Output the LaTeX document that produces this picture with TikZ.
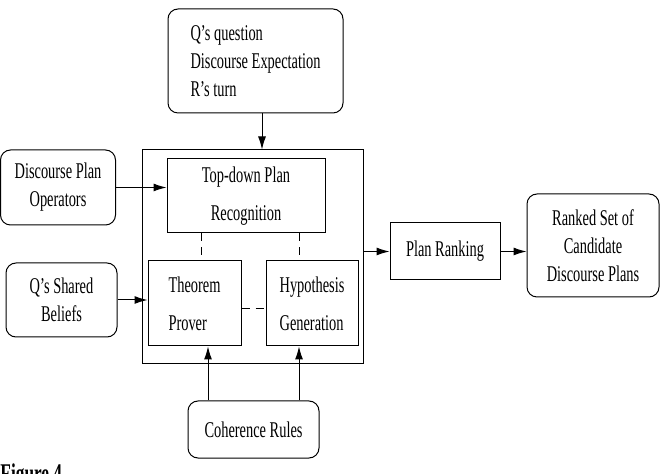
\documentclass[tikz,border=0pt]{standalone}
\usepackage{fontspec}
\setmainfont[FakeStretch=0.64]{Liberation Serif}
\usetikzlibrary{arrows.meta}
\tikzset{
  box/.style={draw,line width=.5pt,inner sep=0pt,align=center,
    font=\fontsize{11.25}{14}\selectfont},
  rbox/.style={box,rounded corners=5pt},
  inbox/.style={box,font=\fontsize{11.25}{19}\selectfont},
  link/.style={line width=.45pt,dash pattern=on 4pt off 3pt},
  >={Latex[length=6.5pt,width=4pt]}
}
\begin{document}
\begin{tikzpicture}[x=.5pt,y=-.5pt,line width=.5pt]
\useasboundingbox (0,0) rectangle (662,474);
\node[rbox,align=left,minimum width=87.5pt,minimum height=52pt] (top) at (255.5,61) {Q's question\\Discourse Expectation\\R's turn};
\node[box,minimum width=110.5pt,minimum height=107pt] (outer) at (252.5,257) {};
\node[inbox,minimum width=79pt,minimum height=37pt] (tdp) at (246,196) {Top-down Plan\\Recognition};
\node[inbox,align=left,minimum width=46.5pt,minimum height=42.5pt] (thm) at (194.5,303.5) {Theorem\\Prover};
\node[inbox,align=left,minimum width=46pt,minimum height=42.5pt] (hyp) at (312,303.5) {Hypothesis\\Generation};
\node[rbox,minimum width=57.5pt,minimum height=37.5pt] (dpo) at (58,187.5) {Discourse Plan\\Operators};
\node[rbox,minimum width=55.5pt,minimum height=37pt] (qsb) at (61.5,300) {Q's Shared\\Beliefs};
\node[rbox,minimum width=65.5pt,minimum height=28.5pt] (coh) at (253.5,429.5) {Coherence Rules};
\node[box,minimum width=55pt,minimum height=28.5pt] (rank) at (445,251.5) {Plan Ranking};
\node[rbox,minimum width=66pt,minimum height=51.5pt] (cand) at (593,245.5) {Ranked Set of\\Candidate\\Discourse Plans};
\node[anchor=base west,inner sep=0pt,font=\bfseries\fontsize{13.5}{14}\selectfont] (cap) at (0,482) {Figure 4};
% arrows
\draw[->] (262,0 |- top.south) -- (262,0 |- outer.north);
\draw[->] (dpo.east) -- (dpo.east -| tdp.west);
\draw[->] (qsb.east) -- (qsb.east -| thm.west);
\draw[->] (rank.west -| outer.east) -- (rank.west);
\draw[->] (rank.east) -- (rank.east -| cand.west);
\draw[->] (208,0 |- coh.north) -- (208,0 |- thm.south);
\draw[->] (299,0 |- coh.north) -- (299,0 |- hyp.south);
% dashed links
\draw[link] (201,0 |- tdp.south) -- (201,0 |- thm.north);
\draw[link] (299,0 |- tdp.south) -- (299,0 |- hyp.north);
\draw[link] (thm.east |- 0,308) -- (hyp.west |- 0,308);
\end{tikzpicture}
\end{document}
